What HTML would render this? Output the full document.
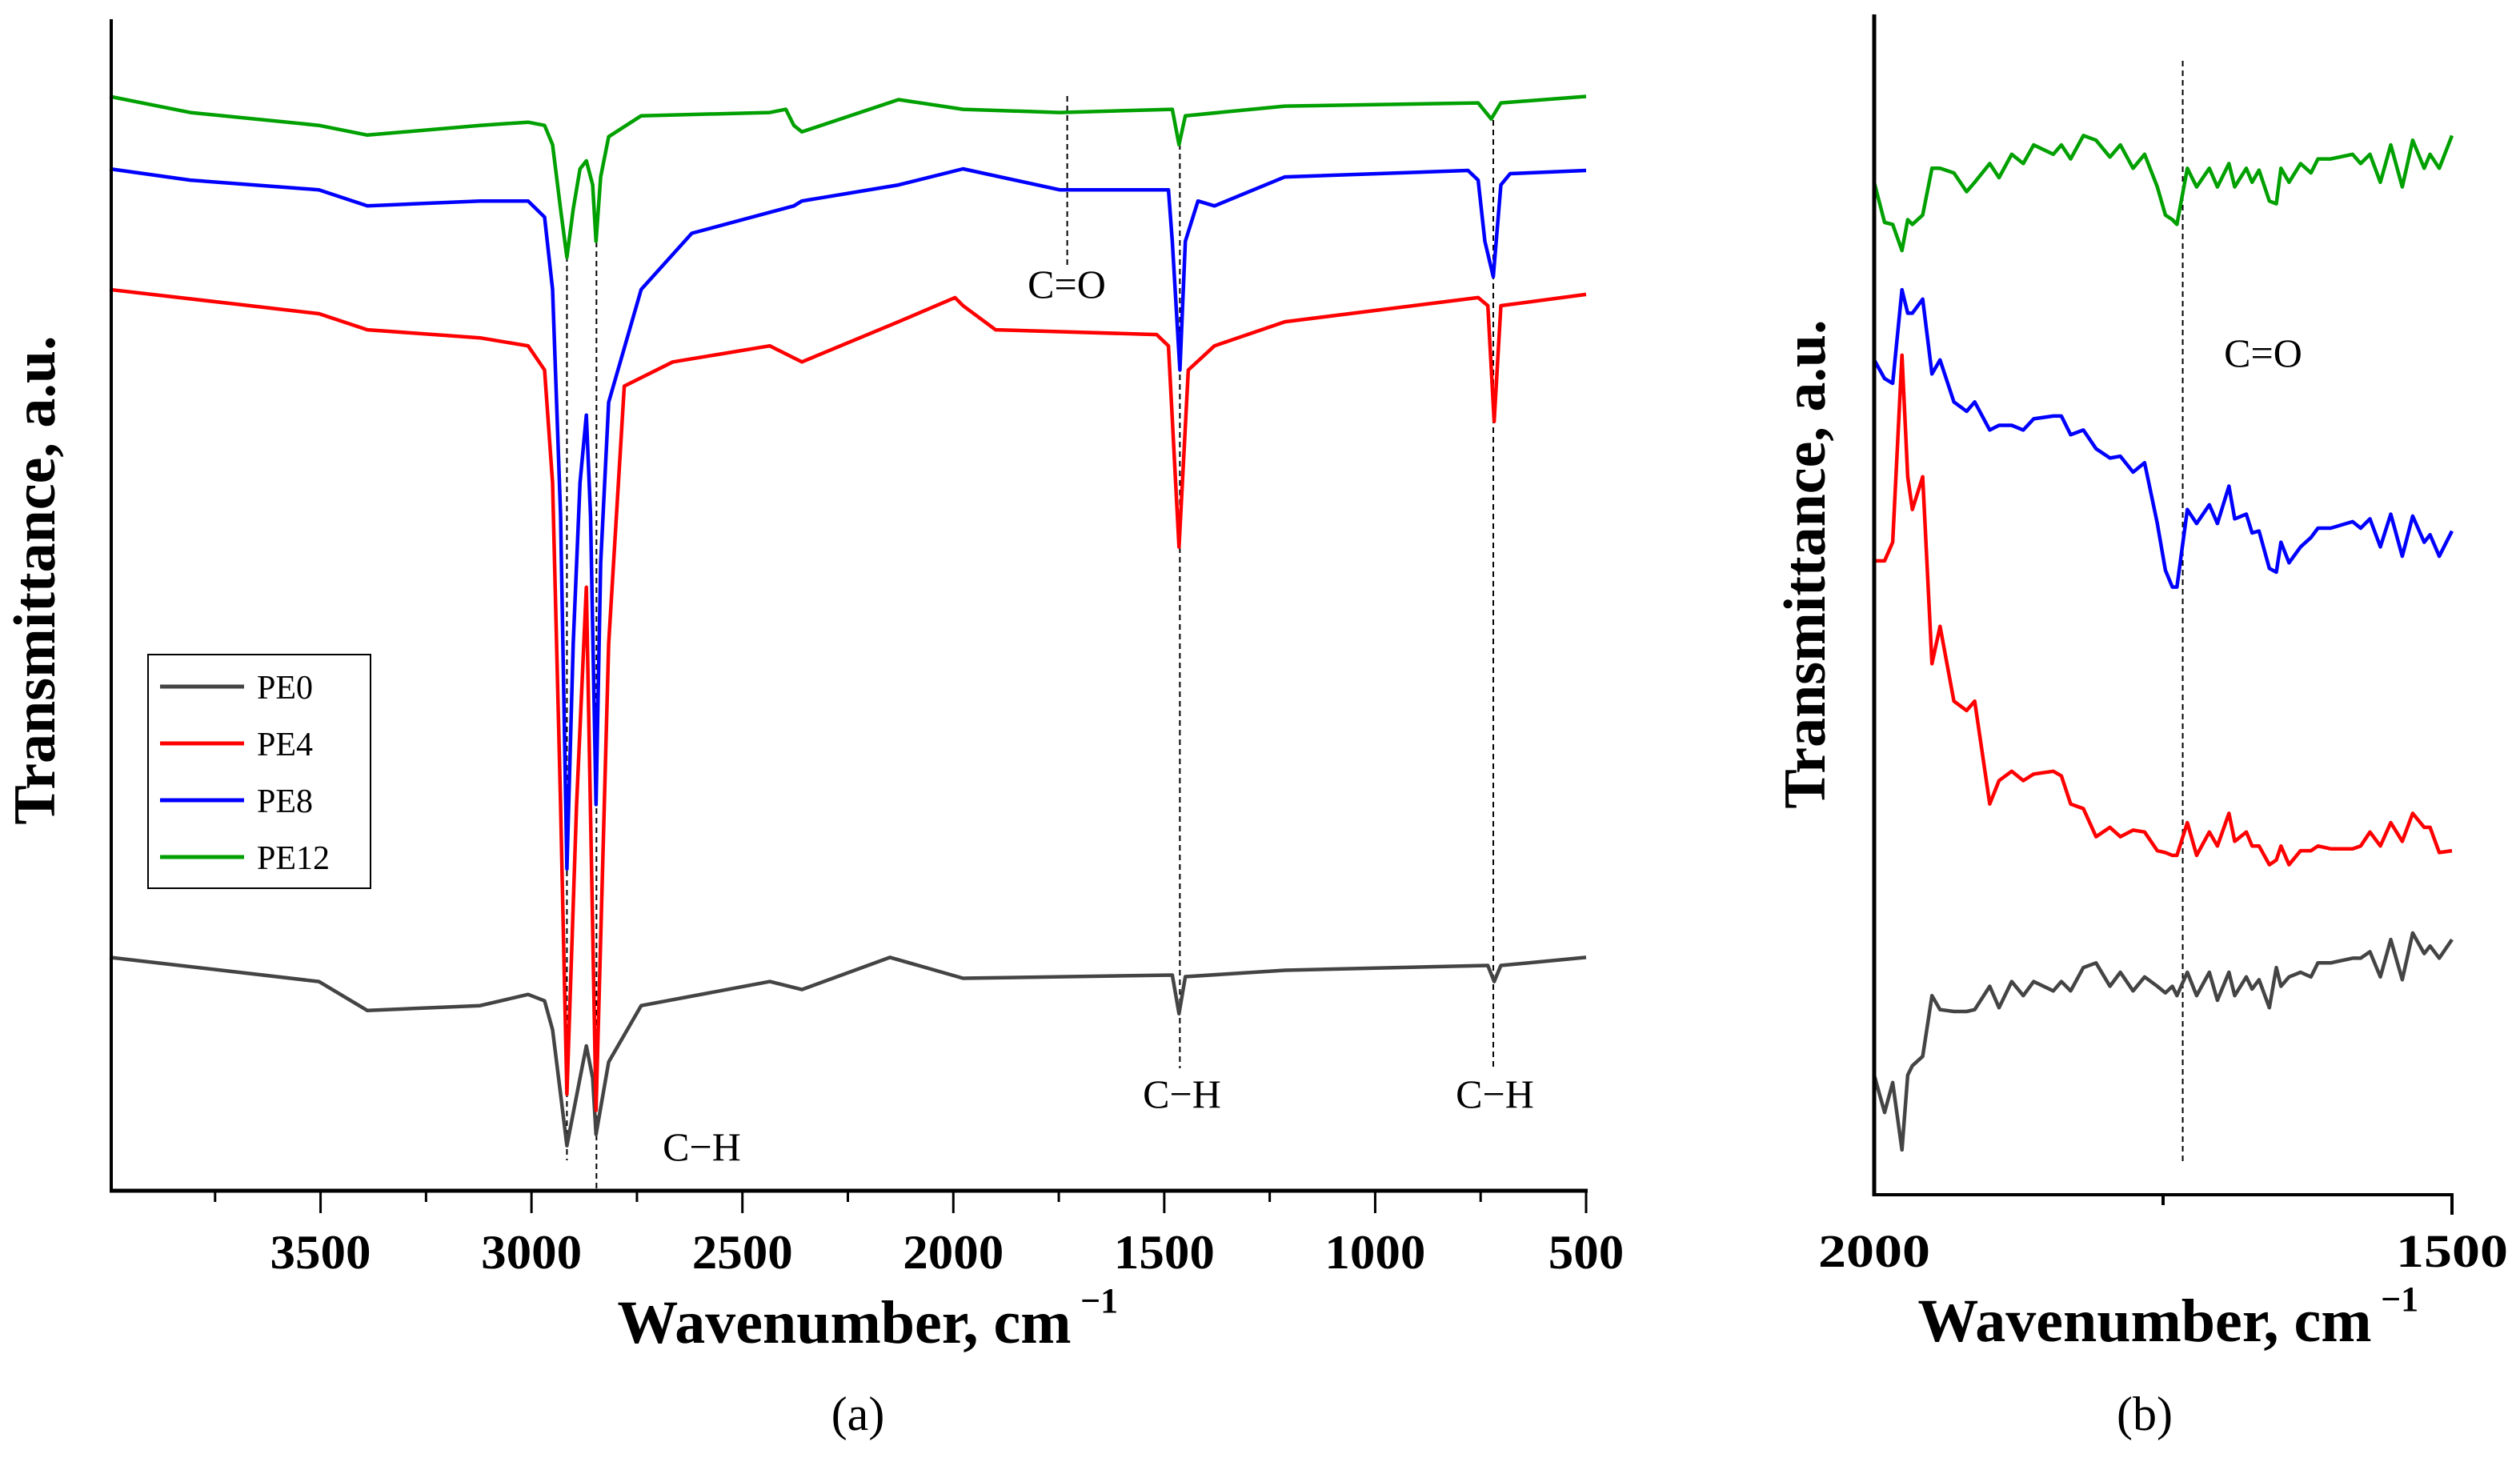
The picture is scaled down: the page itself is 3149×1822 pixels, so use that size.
<!DOCTYPE html>
<html><head><meta charset="utf-8"><style>
html,body{margin:0;padding:0;background:#fff}
svg{display:block}
text{font-family:"Liberation Serif",serif;fill:#000}
</style></head><body>
<svg id="fig" width="3149" height="1822" viewBox="0 0 3149 1822" xmlns="http://www.w3.org/2000/svg">
<g id="pa"></g>
<g id="pb"></g>
</svg>
<script>
// ---------- Panel (a) data ----------
const aTicks = [3500,3000,2500,2000,1500,1000,500];
const aWnGreen = [4000,3809,3504,3389,3122,3008,2969,2950,2931,2916,2901,2885,2870,2855,2847,2836,2817,2740,2435,2397,2378,2359,2130,1977,1748,1481,1465,1450,1214,756,725,702,500];
const aPE12 = [680,670,662,656,662,664,662,650,610,580,610,635,640,625,590,630,655,668,670,672,662,658,678,672,670,672,650,668,674,676,666,676,680];
const aWnBlue = [4000,3809,3504,3389,3122,3008,2969,2950,2931,2916,2901,2885,2870,2860,2847,2836,2817,2740,2620,2435,2378,2359,2130,1977,1748,1490,1481,1463,1450,1420,1381,1214,780,756,740,720,702,680,500];
const aPE8 = [635,628,622,612,615,615,605,560,420,200,340,440,482,420,240,390,490,560,595,608,612,615,625,635,622,622,590,510,590,615,612,630,634,628,590,568,625,632,634];
const aWnRed = [4000,3504,3389,3122,3008,2969,2950,2931,2916,2893,2870,2847,2817,2780,2665,2435,2359,2130,1996,1977,1900,1518,1490,1465,1443,1381,1214,756,733,718,702,500];
const aPE4 = [560,545,535,530,525,510,440,240,60,240,375,50,340,500,515,525,515,540,555,550,535,532,525,400,510,525,540,555,550,478,550,557];
const aWnBlack = [4000,3504,3389,3122,3008,2969,2950,2931,2916,2885,2870,2855,2847,2817,2740,2435,2359,2150,1977,1481,1465,1450,1214,733,718,702,500];
const aPE0 = [145,130,112,115,122,118,100,60,28,70,90,70,35,80,115,130,125,145,132,134,110,133,137,140,130,140,145];
// ---------- Panel (b) data ----------
const bWn = [2000,1991,1984,1976,1971,1967,1958,1950,1943,1931,1920,1913,1900,1892,1881,1871,1862,1845,1838,1830,1819,1808,1796,1787,1776,1766,1755,1748,1742,1738,1729,1721,1710,1703,1693,1688,1678,1673,1667,1658,1652,1648,1641,1631,1622,1616,1605,1586,1579,1571,1562,1553,1543,1534,1524,1519,1511,1500];
const bPE12 = [1083,1040,1038,1010,1043,1038,1048,1098,1098,1093,1073,1083,1103,1088,1113,1103,1123,1113,1123,1108,1133,1128,1110,1123,1098,1113,1078,1048,1043,1038,1098,1078,1098,1078,1103,1078,1098,1083,1096,1063,1060,1098,1083,1103,1093,1108,1108,1113,1103,1113,1083,1123,1078,1128,1098,1113,1098,1133];
const bPE8 = [893,873,868,968,943,943,958,878,893,848,838,848,818,823,823,818,830,833,833,813,818,798,788,790,773,783,718,668,650,650,733,718,738,718,758,723,728,708,710,670,666,698,676,693,703,713,713,720,713,723,693,728,683,726,698,706,683,710];
const bPE4 = [678,678,698,898,768,733,768,568,608,528,518,528,418,443,453,443,450,453,448,418,413,383,393,383,390,388,368,366,363,363,398,363,388,373,408,378,388,373,373,353,358,373,353,368,368,373,370,370,373,388,373,398,378,408,393,393,366,368];
const bPE0 = [128,88,120,48,128,138,148,213,198,196,196,198,223,200,228,213,228,218,228,218,243,248,223,238,218,233,223,216,223,213,238,213,238,208,238,213,233,220,230,200,243,223,233,238,233,248,248,253,253,260,233,273,230,280,258,266,253,273];
const seriesNames = ["PE0","PE4","PE8","PE12"];
const seriesColors = ["#444444","#ff0000","#0000ff","#00a000"];

const NS="http://www.w3.org/2000/svg";
function mk(tag, attrs, parent){const e=document.createElementNS(NS,tag);for(const k in attrs)e.setAttribute(k,attrs[k]);parent.appendChild(e);return e;}
const pa=document.getElementById('pa'), pb=document.getElementById('pb');

// axis functions
const ax = wn => 137 + (4000-wn)*(1845/3500);
const ay = v => 1488 - v*2.011;
const bx = wn => 2342 + (2000-wn)/500*722;
const by = v => (1278-v)/0.856;

function line(xs, ys, fx, fy, color, parent, name){
  let d=''; xs.forEach((w,i)=>{d+=(i?'L':'M')+fx(w).toFixed(1)+','+fy(ys[i]).toFixed(1);});
  const p=mk('path',{d:d,fill:'none',stroke:color,'stroke-width':4.5,'stroke-linejoin':'round'},parent);
  
  
}
function dash(x,y1,y2,parent,name){
  const l=mk('line',{x1:x,x2:x,y1:y1,y2:y2,stroke:'#000','stroke-width':2,'stroke-dasharray':'7,5'},parent);
  
  
}
function txt(x,y,s,size,parent,name,extra){
  const t=mk('text',Object.assign({x:x,y:y,'font-size':size,'text-anchor':'middle'},extra||{}),parent);
  t.textContent=s;
  
  
  return t;
}

// ---- Panel a ----
dash(ax(2916),320,1450,pa,'dashline-2916');
dash(ax(2846),290,1488,pa,'dashline-2846');
dash(ax(1730),120,335,pa,'dashline-co');
dash(ax(1463),180,1335,pa,'dashline-1463');
dash(ax(720),150,1335,pa,'dashline-720');
line(aWnBlack,aPE0,ax,ay,seriesColors[0],pa,'series-pe0');
line(aWnRed,aPE4,ax,ay,seriesColors[1],pa,'series-pe4');
line(aWnBlue,aPE8,ax,ay,seriesColors[2],pa,'series-pe8');
line(aWnGreen,aPE12,ax,ay,seriesColors[3],pa,'series-pe12');
// axes
const aL=mk('line',{x1:139,x2:139,y1:24,y2:1490,stroke:'#000','stroke-width':4},pa);
 
const aB=mk('line',{x1:137,x2:1984,y1:1488,y2:1488,stroke:'#000','stroke-width':5},pa);
 
for(let w=3750; w>=500; w-=250){
  const major = w%500===0;
  const t=mk('line',{x1:ax(w),x2:ax(w),y1:1488,y2:major?1516:1502,stroke:'#000','stroke-width':3},pa);
   
}
aTicks.forEach(w=>{
  const s=String(w);
  txt(ax(w),1585,s,60,pa,'x-tick-label-a',{'font-weight':'bold','textLength':s.length*31.5,'lengthAdjust':'spacingAndGlyphs'});
});
txt(1055,1678,'Wavenumber, cm',76,pa,'x-axis-title-a',{'font-weight':'bold'});
txt(1350,1640,'−1',44,pa,'x-axis-title-a-sup',{'font-weight':'bold','text-anchor':'start'});
txt(0,0,'Transmittance, a.u.',74,pa,'y-axis-title-a',{'font-weight':'bold',transform:'translate(68,725) rotate(-90)'});
txt(1072,1787,'(a)',60,pa,'panel-label-a');
txt(1333,372,'C=O',50,pa,'annotation-co-a');
txt(877,1450,'C−H',50,pa,'annotation-ch-2850');
txt(1477,1384,'C−H',50,pa,'annotation-ch-1463');
txt(1868,1384,'C−H',50,pa,'annotation-ch-720');
// legend
const lg=mk('g',{},pa);  
mk('rect',{x:185,y:818,width:278,height:292,fill:'#fff',stroke:'#000','stroke-width':2},lg);
seriesNames.forEach((n,i)=>{
  const y=858+i*71;
  const e=mk('g',{},lg);
  
  
  mk('line',{x1:200,x2:305,y1:y,y2:y,stroke:seriesColors[i],'stroke-width':5},e);
  const t=mk('text',{x:321,y:y+15,'font-size':42},e); t.textContent=n;
});

// ---- Panel b ----
dash(bx(1733),76,1454,pb,'dashline-co-b');
line(bWn,bPE0,bx,by,seriesColors[0],pb,'series-b-pe0');
line(bWn,bPE4,bx,by,seriesColors[1],pb,'series-b-pe4');
line(bWn,bPE8,bx,by,seriesColors[2],pb,'series-b-pe8');
line(bWn,bPE12,bx,by,seriesColors[3],pb,'series-b-pe12');
const bL=mk('line',{x1:2342,x2:2342,y1:18,y2:1495,stroke:'#000','stroke-width':5},pb);
 
const bB=mk('line',{x1:2340,x2:bx(1500)+2,y1:1493,y2:1493,stroke:'#000','stroke-width':4},pb);
 
[1750,1500].forEach(w=>{
  const t=mk('line',{x1:bx(w),x2:bx(w),y1:1493,y2:w===1500?1518:1506,stroke:'#000','stroke-width':4},pb);
   
});
txt(bx(2000),1583,'2000',58,pb,'x-tick-label-b',{'font-weight':'bold','textLength':140,'lengthAdjust':'spacingAndGlyphs'});
txt(bx(1500),1583,'1500',58,pb,'x-tick-label-b',{'font-weight':'bold','textLength':140,'lengthAdjust':'spacingAndGlyphs'});
txt(2680,1676,'Wavenumber, cm',76,pb,'x-axis-title-b',{'font-weight':'bold'});
txt(2975,1638,'−1',44,pb,'x-axis-title-b-sup',{'font-weight':'bold','text-anchor':'start'});
txt(0,0,'Transmittance, a.u.',74,pb,'y-axis-title-b',{'font-weight':'bold',transform:'translate(2280,705) rotate(-90)'});
txt(2680,1787,'(b)',60,pb,'panel-label-b');
txt(2828,458,'C=O',50,pb,'annotation-co-b');
</script>
</body></html>
